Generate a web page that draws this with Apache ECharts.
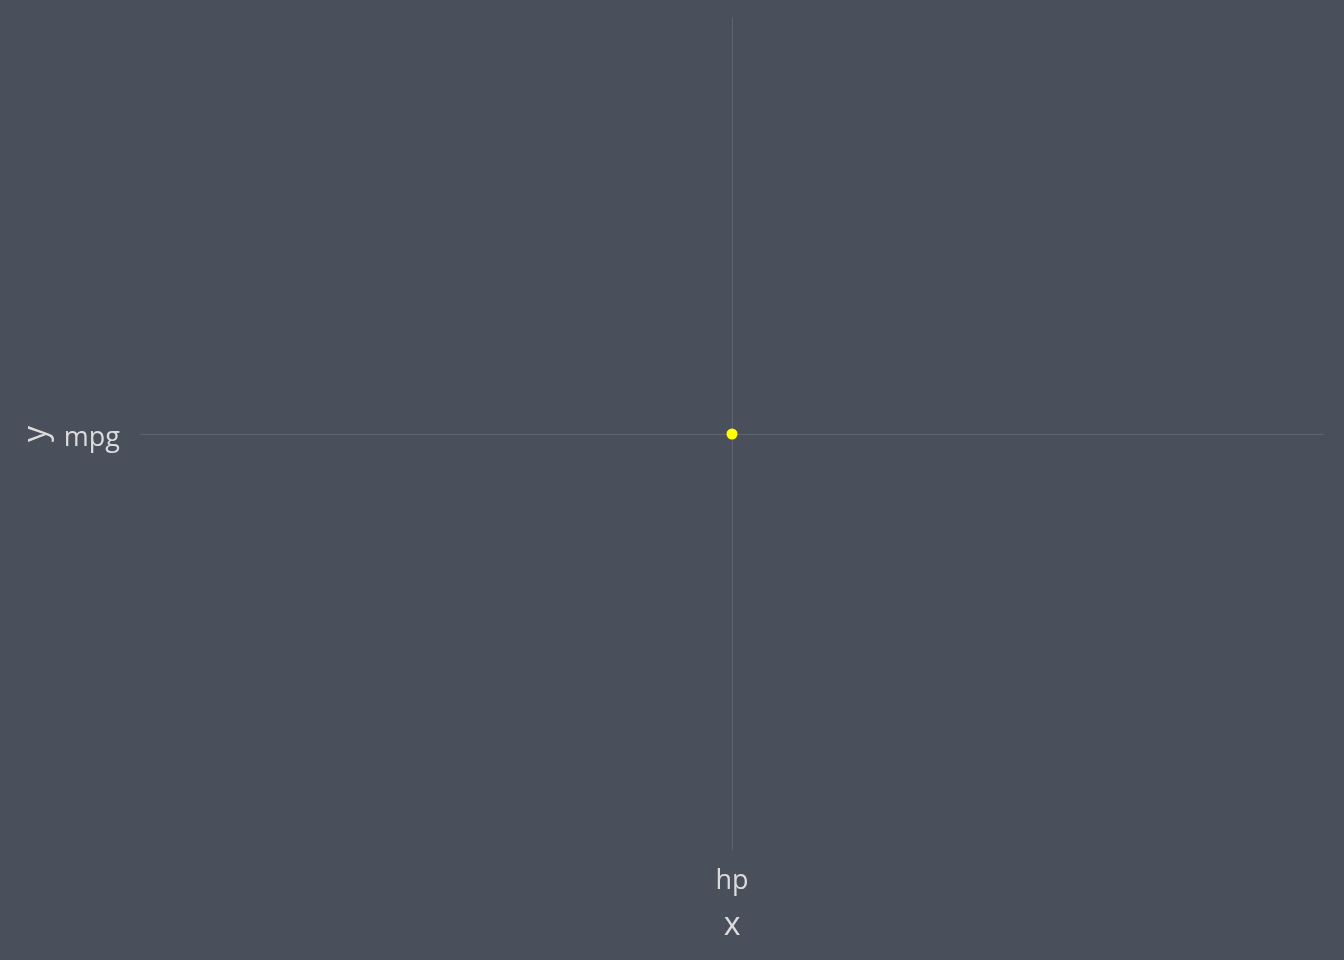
<!DOCTYPE html>
<html>
<head>
<meta charset="utf-8">
<script src="https://cdn.jsdelivr.net/npm/echarts@6/dist/echarts.min.js"></script>
<style>
  html, body { margin: 0; padding: 0; background: #4a4f5c; }
  #main { width: 1344px; height: 960px; }
</style>
</head>
<body>
<div id="main"></div>
<script>
// data
var xCategories = ['hp'];
var yCategories = ['mpg'];
var points = [['hp', 'mpg']];

var textColor = '#dcdcdc';
var gridColor = '#5f6471';

var myChart = echarts.init(document.getElementById('main'));
var option = {
    backgroundColor: '#4a4f5c',
    textStyle: { fontFamily: 'Open Sans' },
    grid: { left: 140, right: 20, top: 18, bottom: 110 },
    xAxis: {
        type: 'category',
        data: xCategories,
        name: 'x',
        nameLocation: 'middle',
        nameGap: 60,
        nameTextStyle: { color: textColor, fontSize: 32 },
        axisLine: { show: false },
        axisTick: { show: false },
        axisLabel: { color: textColor, fontSize: 27, margin: 18 },
        splitLine: { show: false }
    },
    yAxis: {
        type: 'category',
        data: yCategories,
        name: 'y',
        nameLocation: 'middle',
        nameGap: 87,
        nameTextStyle: { color: textColor, fontSize: 32 },
        axisLine: { show: false },
        axisTick: { show: false },
        axisLabel: { color: textColor, fontSize: 27, margin: 20, verticalAlign: 'top', lineHeight: 8 },
        splitLine: { show: false }
    },
    series: [{
        type: 'scatter',
        data: points,
        symbolSize: 11,
        itemStyle: { color: '#ffff00', opacity: 1 },
        z: 5,
        markLine: {
            silent: true,
            symbol: 'none',
            label: { show: false },
            lineStyle: { color: gridColor, width: 1, type: 'solid' },
            data: [
                { xAxis: xCategories[0] },
                { yAxis: yCategories[0] }
            ]
        }
    }]
};
myChart.setOption(option);
</script>
</body>
</html>
